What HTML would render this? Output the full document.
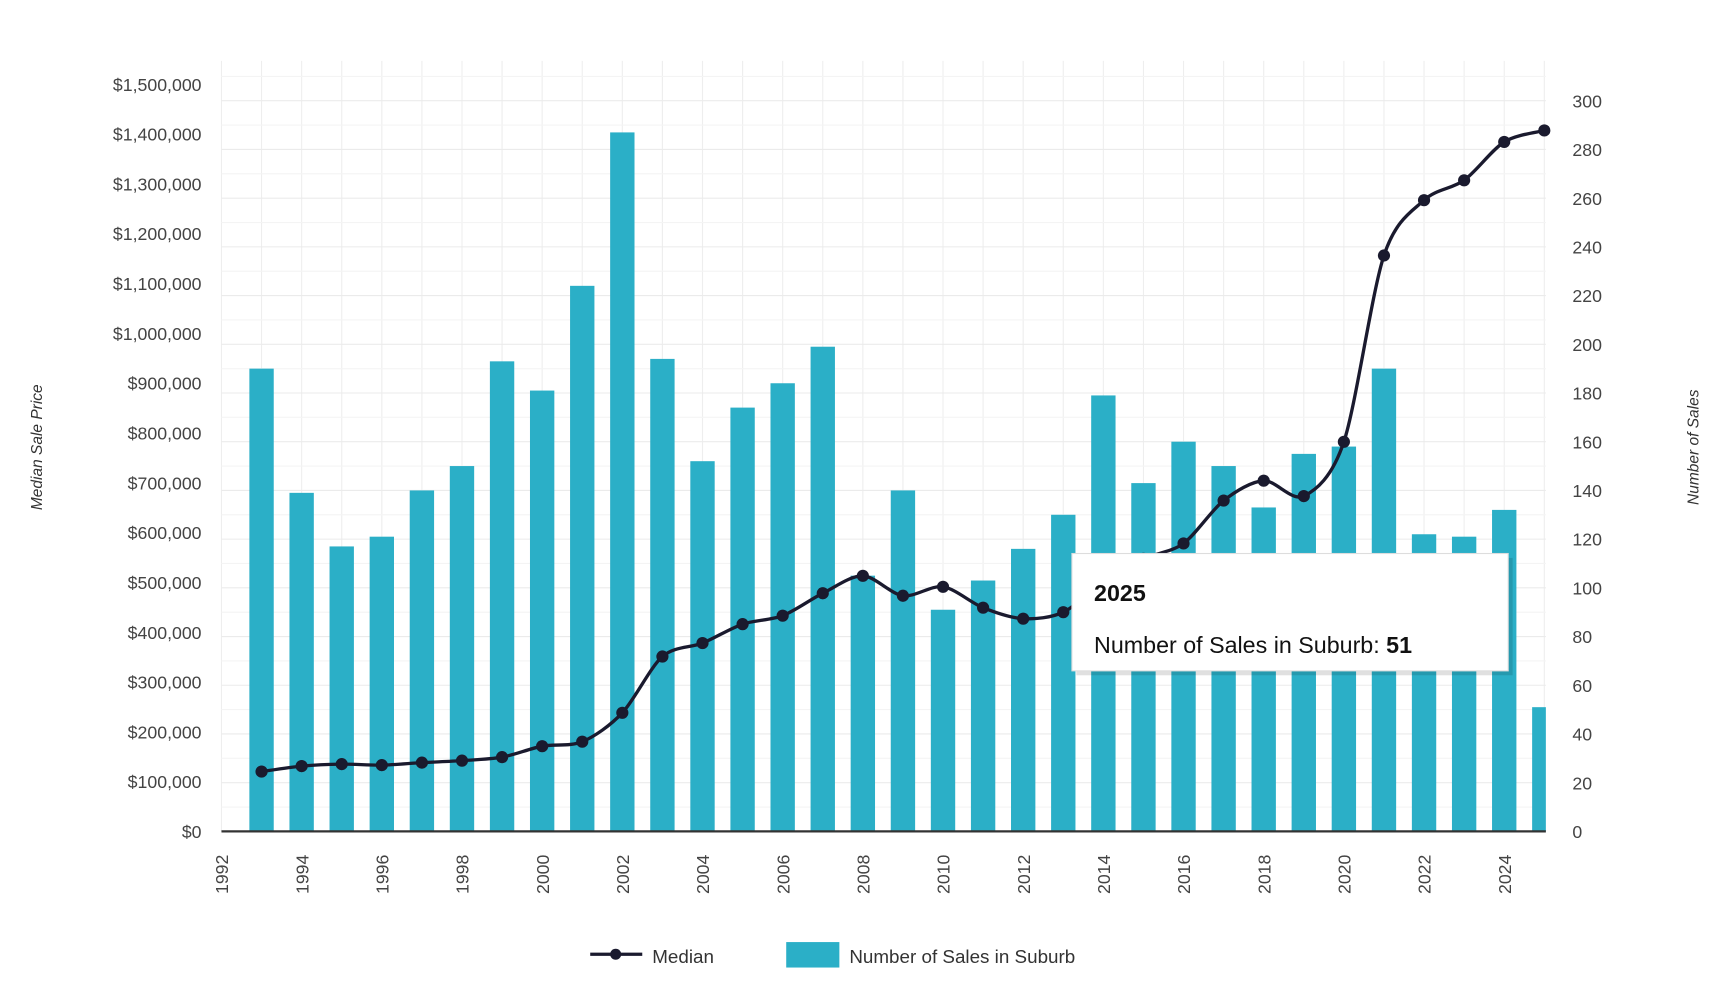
<!DOCTYPE html>
<html><head><meta charset="utf-8"><style>
html,body{margin:0;padding:0;background:#fff;}
svg{display:block;font-family:"Liberation Sans",Arial,sans-serif;}
</style></head><body>
<svg id="chart" width="1733" height="993" viewBox="0 0 1565 897" preserveAspectRatio="none" xmlns="http://www.w3.org/2000/svg">
<defs><clipPath id="plotclip"><rect x="200" y="40" width="1196" height="712"/></clipPath></defs>
<g id="grid"></g>
<g id="bars" clip-path="url(#plotclip)"></g>
<g id="line"></g>
<g id="axes"></g>
<text transform="translate(38,404) rotate(-90)" text-anchor="middle" font-size="14" font-style="italic" fill="#333">Median Sale Price</text>
<text transform="translate(1534,404) rotate(-90)" text-anchor="middle" font-size="14" font-style="italic" fill="#333">Number of Sales</text>
<g>
  <line x1="533" y1="862" x2="580" y2="862" stroke="#1a1a2e" stroke-width="3"/>
  <circle cx="556" cy="862" r="5" fill="#1a1a2e"/>
  <text x="589" y="870" font-size="17" fill="#333">Median</text>
  <rect x="710" y="851" width="48" height="23" fill="#2bafc7"/>
  <text x="767" y="870" font-size="17" fill="#333">Number of Sales in Suburb</text>
</g>
<g>
  <rect x="970" y="502" width="394" height="106" fill="#000" opacity="0.12" transform="translate(2,2)"/>
  <rect x="968" y="500" width="394" height="106" fill="#fff" stroke="#ddd"/>
  <text x="988" y="543" font-size="21" font-weight="bold" fill="#111">2025</text>
  <text x="988" y="590" font-size="21" fill="#111">Number of Sales in Suburb: <tspan font-weight="bold">51</tspan></text>
</g>
</svg>
<script>
const years=[1993,1994,1995,1996,1997,1998,1999,2000,2001,2002,2003,2004,2005,2006,2007,2008,2009,2010,2011,2012,2013,2014,2015,2016,2017,2018,2019,2020,2021,2022,2023,2024,2025];
const sales=[190,139,117,121,140,150,193,181,224,287,194,152,174,184,199,105,140,91,103,116,130,179,143,160,150,133,155,158,190,122,121,132,51];
const median=[120000,131000,135000,133000,138000,142000,149000,171000,180000,238000,351000,378000,416000,433000,478000,513000,473000,491000,449000,427000,440000,502000,547000,578000,664000,704000,673000,782000,1156000,1267000,1307000,1384000,1407000];
const priceTicks=[0,100000,200000,300000,400000,500000,600000,700000,800000,900000,1000000,1100000,1200000,1300000,1400000,1500000];
const salesTicks=[0,20,40,60,80,100,120,140,160,180,200,220,240,260,280,300];
const yearTicks=[1992,1994,1996,1998,2000,2002,2004,2006,2008,2010,2012,2014,2016,2018,2020,2022,2024];
const NS="http://www.w3.org/2000/svg";
const X0=200,X1=1396,BASE=751;
const xs=y=>X0+(y-1992)*36.2;
const yp=v=>BASE-v/100000*45;
const ysales=v=>BASE-v*2.2;
function mk(tag,attrs,parent){const e=document.createElementNS(NS,tag);for(const k in attrs)e.setAttribute(k,attrs[k]);parent.appendChild(e);return e;}
const grid=document.getElementById('grid'),bars=document.getElementById('bars'),line=document.getElementById('line'),axes=document.getElementById('axes');
for(let y=1992;y<=2025;y++){mk('line',{x1:xs(y),x2:xs(y),y1:55,y2:BASE,stroke:'#eeeeee','stroke-width':1},grid);}
for(let v=0;v<=310;v+=10){mk('line',{x1:X0,x2:X1,y1:ysales(v),y2:ysales(v),stroke:v%20?'#f4f4f4':'#ebebeb','stroke-width':1},grid);}
years.forEach((y,i)=>{
  const r=mk('rect',{x:xs(y)-11,y:ysales(sales[i]),width:22,height:BASE-ysales(sales[i]),fill:'#2bafc7'},bars);
  
  
});
const pts=years.map((y,i)=>[xs(y),yp(median[i])]);
let d='M'+pts[0][0]+','+pts[0][1];
for(let i=0;i<pts.length-1;i++){
  const p0=pts[Math.max(0,i-1)],p1=pts[i],p2=pts[i+1],p3=pts[Math.min(pts.length-1,i+2)];
  const t=0.15;
  d+=' C'+(p1[0]+(p2[0]-p0[0])*t)+','+(p1[1]+(p2[1]-p0[1])*t)+' '+(p2[0]-(p3[0]-p1[0])*t)+','+(p2[1]-(p3[1]-p1[1])*t)+' '+p2[0]+','+p2[1];
}
mk('path',{d:d,fill:'none',stroke:'#1a1a2e','stroke-width':3},line);
pts.forEach((p,i)=>{
  const c=mk('circle',{cx:p[0],cy:p[1],r:5.5,fill:'#1a1a2e'},line);
  
  
});
mk('line',{x1:X0,x2:X1,y1:BASE,y2:BASE,stroke:'#333','stroke-width':2},axes);
priceTicks.forEach(v=>{
  const t=mk('text',{x:182,y:yp(v)+6,'text-anchor':'end','font-size':16,fill:'#444'},axes);
  t.textContent='$'+v.toLocaleString('en-US');
  
  
});
salesTicks.forEach(v=>{
  const t=mk('text',{x:1420,y:ysales(v)+6,'font-size':16,fill:'#444'},axes);
  t.textContent=v;
  
  
});
yearTicks.forEach(y=>{
  const t=mk('text',{transform:'translate('+(xs(y)+6)+',772) rotate(-90)','text-anchor':'end','font-size':16,fill:'#444'},axes);
  t.textContent=y;
  
  
});
</script>
</body></html>
